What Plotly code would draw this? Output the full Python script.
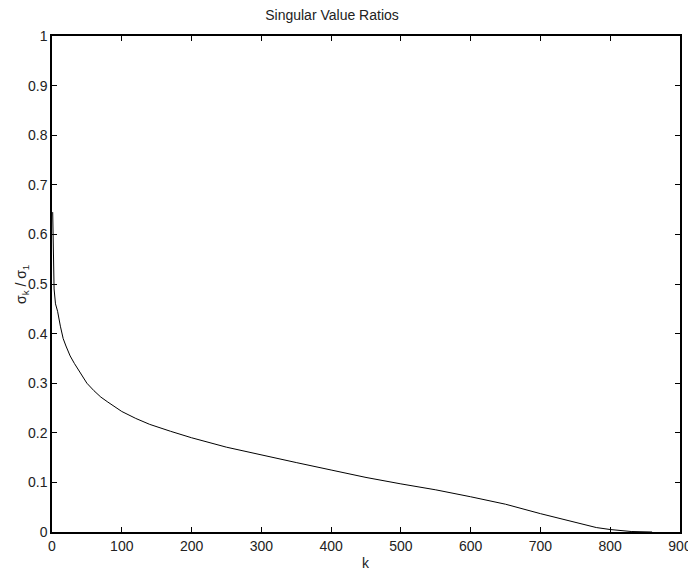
import plotly.graph_objects as go

k_values = [1, 2, 3, 5, 8, 12, 16, 20, 26, 32, 40, 50, 60, 70, 80, 100, 120, 140, 170,
            200, 250, 300, 350, 400, 450, 500, 550, 600, 650, 700, 750, 780, 800, 830, 860]
ratios = [0.645, 0.515, 0.49, 0.46, 0.445, 0.415, 0.39, 0.375, 0.355, 0.34, 0.322, 0.300,
          0.285, 0.272, 0.262, 0.243, 0.229, 0.217, 0.203, 0.190, 0.171, 0.155, 0.140,
          0.125, 0.110, 0.097, 0.085, 0.071, 0.056, 0.037, 0.019, 0.009, 0.005, 0.001, 0.0]

x_ticks = [0, 100, 200, 300, 400, 500, 600, 700, 800, 900]
y_ticks = [0, 0.1, 0.2, 0.3, 0.4, 0.5, 0.6, 0.7, 0.8, 0.9, 1]
y_tick_text = ["0", "0.1", "0.2", "0.3", "0.4", "0.5", "0.6", "0.7", "0.8", "0.9", "1"]

font_family = "Liberation Sans, Arial, sans-serif"
text_color = "#222222"
OFF = 8  # page body margin
W, H = 696 - OFF, 572 - OFF
L, T = 52 - OFF, 36 - OFF
R = W - (680 - OFF)
B = H - (532 - OFF)

fig = go.Figure()
fig.add_trace(go.Scatter(x=k_values, y=ratios, mode="lines",
                         line=dict(color="black", width=1), showlegend=False))

axis_common = dict(showline=True, linecolor="black", linewidth=1.5, mirror="ticks",
                   ticks="inside", ticklen=5, tickcolor="black", tickwidth=1,
                   showgrid=False, zeroline=False, automargin=False,
                   tickfont=dict(family=font_family, size=14, color=text_color))

fig.update_layout(
    width=W, height=H,
    margin=dict(l=L, r=R, t=T, b=B, autoexpand=False),
    paper_bgcolor="white", plot_bgcolor="white",
    font=dict(family=font_family, size=14, color=text_color),
    title=dict(text="Singular Value Ratios", xref="container", yref="container",
               x=(332 - OFF) / W, xanchor="center", y=1 - (15 - OFF) / H, yanchor="middle",
               font=dict(family=font_family, size=14, color=text_color)),
    xaxis=dict(range=[0, 900], tickvals=x_ticks, ticktext=[str(v) for v in x_ticks],
               **axis_common),
    yaxis=dict(range=[0, 1], tickvals=y_ticks, ticktext=y_tick_text, **axis_common),
    annotations=[
        dict(text="k", xref="paper", yref="paper", x=0.5, xanchor="center",
             y=-(563 - 532) / (H - T - B), yanchor="middle", showarrow=False,
             font=dict(family=font_family, size=14, color=text_color)),
        dict(text="σ<sub>k</sub> / σ<sub>1</sub>", xref="paper", yref="paper",
             x=-(52 - 22) / (W - L - R), xanchor="center", y=0.5, yanchor="middle",
             textangle=-90, showarrow=False,
             font=dict(family=font_family, size=14, color=text_color)),
    ],
)

fig.write_html("out.html")
